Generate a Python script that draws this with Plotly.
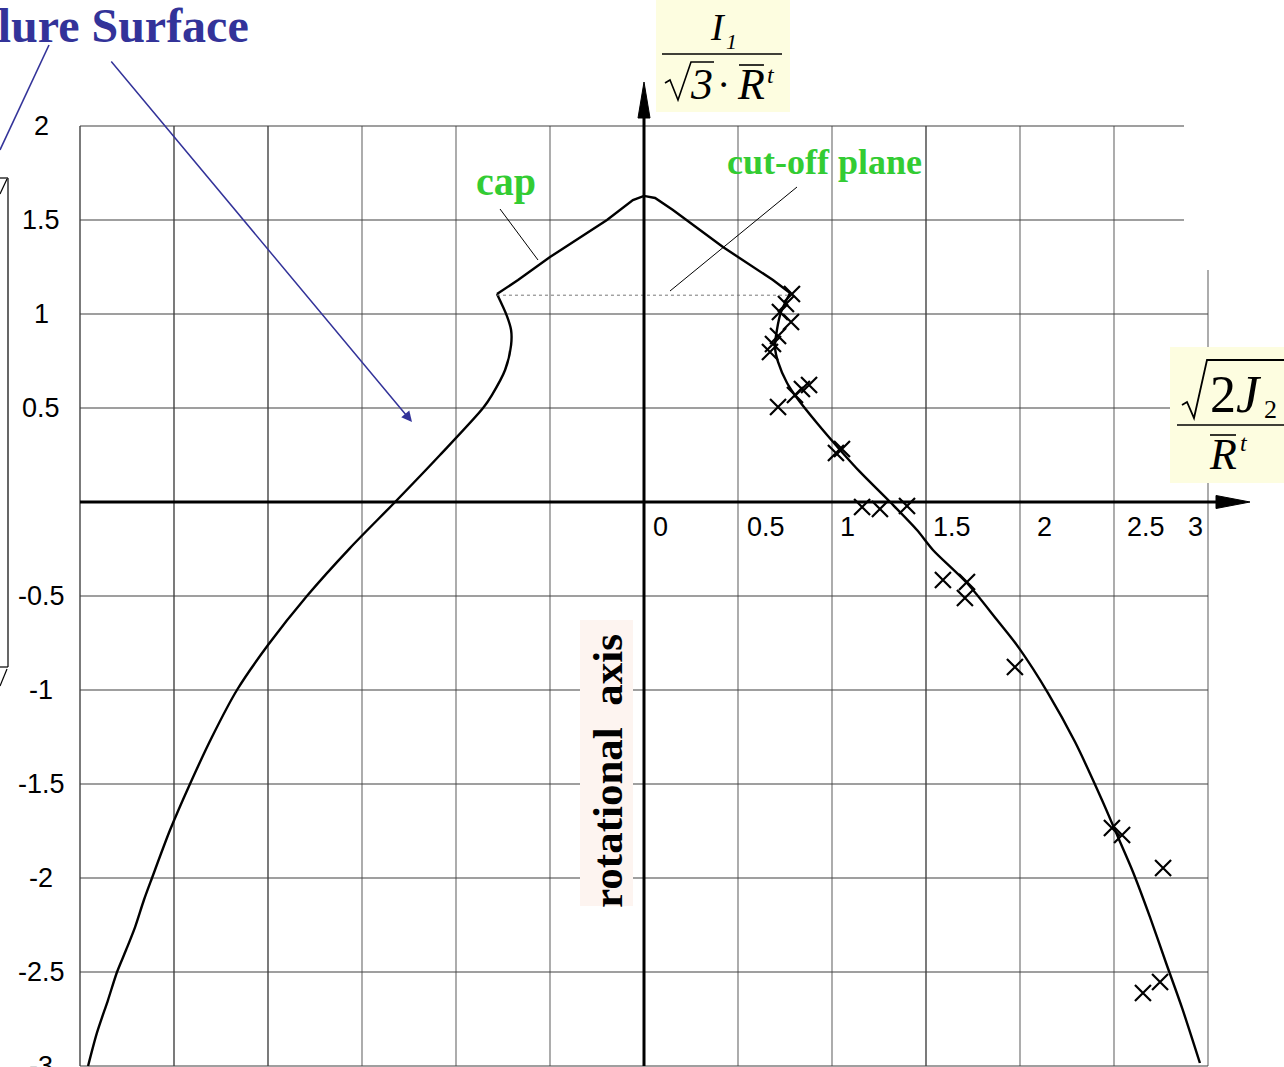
import plotly.graph_objects as go

# ---------------------------------------------------------------------------
# Meridian of the failure surface in normalized invariants
# (x = sqrt(2 J2) / R^t, y = I1 / (sqrt(3) R^t)).
# Compression side, from the bottom up to the left cap corner
LEFT_X = [-2.957, -2.910, -2.851, -2.803, -2.755, -2.707, -2.660, -2.617, -2.521,
          -2.415, -2.298, -2.165, -2.000, -1.793, -1.564, -1.324, -1.085, -0.856,
          -0.809, -0.739, -0.707, -0.707, -0.729, -0.782]
LEFT_Y = [-3.000, -2.824, -2.649, -2.500, -2.383, -2.261, -2.117, -2.000, -1.745,
          -1.500, -1.250, -1.000, -0.761, -0.500, -0.245, 0.000, 0.250, 0.500,
          0.569, 0.702, 0.835, 0.915, 0.989, 1.106]
# Cap, from the left corner over the apex to the right corner
CAP_X = [-0.782, -0.670, -0.500, -0.197, -0.059, 0.000, 0.059, 0.154, 0.420, 0.686, 0.777]
CAP_Y = [1.106, 1.181, 1.303, 1.500, 1.606, 1.628, 1.617, 1.553, 1.356, 1.181, 1.112]
# Tension side, from the right cap corner down to the bottom
RIGHT_X = [0.777, 0.729, 0.707, 0.697, 0.713, 0.761, 0.814, 0.920, 1.043, 1.149, 1.309,
           1.452, 1.537, 1.718, 1.878, 1.995, 2.149, 2.293, 2.436, 2.521, 2.601,
           2.691, 2.777, 2.862, 2.957]
RIGHT_Y = [1.112, 1.011, 0.915, 0.824, 0.745, 0.633, 0.553, 0.420, 0.277, 0.160, 0.000,
           -0.149, -0.255, -0.431, -0.628, -0.777, -1.016, -1.277, -1.585, -1.782,
           -1.968, -2.207, -2.452, -2.691, -2.984]

# Test data points
TEST_X = [0.787, 0.755, 0.723, 0.782, 0.713, 0.686, 0.670, 0.878, 0.840, 0.803,
          0.713, 1.053, 1.021, 1.160, 1.255, 1.399, 1.590, 1.718, 1.707, 1.973,
          2.489, 2.543, 2.761, 2.745, 2.654]
TEST_Y = [1.106, 1.053, 1.011, 0.957, 0.883, 0.840, 0.798, 0.622, 0.601, 0.569,
          0.505, 0.282, 0.261, -0.027, -0.037, -0.021, -0.415, -0.426, -0.511, -0.878,
          -1.734, -1.771, -1.947, -2.553, -2.612]

# Height of the cut-off plane under the cap
CUTOFF_Y = 1.1

# Grid and tick labels
GRID_X = [-3, -2.5, -2, -1.5, -1, -0.5, 0.5, 1, 1.5, 2, 2.5, 3]
GRID_Y = [2, 1.5, 1, 0.5, -0.5, -1, -1.5, -2, -2.5, -3]
X_TICKS = [0, 0.5, 1, 1.5, 2, 2.5, 3]
X_TICK_TEXT = ["0", "0.5", "1", "1.5", "2", "2.5", "3"]
Y_TICKS = [2, 1.5, 1, 0.5, -0.5, -1, -1.5, -2, -2.5, -3]
Y_TICK_TEXT = ["2", "1.5", "1", "0.5", "-0.5", "-1", "-1.5", "-2", "-2.5", "-3"]

# ---------------------------------------------------------------------------
# Page geometry: the axes fill the whole page; one unit is UNIT pixels and the
# origin sits at (OX, OY) pixels from the top-left corner.
W, H = 1284, 1067
OX, OY, UNIT = 644, 502, 188
X_MIN, X_MAX, Y_MIN, Y_MAX = -3, 3, -3, 2


def dx(px):
    return (px - OX) / UNIT


def dy(py):
    return (OY - py) / UNIT


SERIF = "Liberation Serif, Times New Roman, serif"
SANS = "Liberation Sans, Arial, sans-serif"
BLUE = "#333399"
GREEN = "#33cc33"
YELLOW = "#fdfde0"
PINK = "#fdf4f0"
CURVE_LINE = dict(color="black", width=2.4)

fig = go.Figure()

# failure surface meridian: smooth branches joined by the straight-sided cap
fig.add_trace(go.Scatter(x=LEFT_X, y=LEFT_Y, mode="lines", hoverinfo="skip",
                         line=dict(CURVE_LINE, shape="spline", smoothing=0.8)))
fig.add_trace(go.Scatter(x=CAP_X, y=CAP_Y, mode="lines", hoverinfo="skip",
                         line=CURVE_LINE))
fig.add_trace(go.Scatter(x=RIGHT_X, y=RIGHT_Y, mode="lines", hoverinfo="skip",
                         line=dict(CURVE_LINE, shape="spline", smoothing=0.8)))

# cut-off plane between the two cap corners
fig.add_trace(go.Scatter(x=[CAP_X[0], CAP_X[-1]], y=[CUTOFF_Y, CUTOFF_Y], mode="lines",
                         line=dict(color="#777777", width=1, dash="dot"), hoverinfo="skip"))

# test points
fig.add_trace(go.Scatter(x=TEST_X, y=TEST_Y, mode="markers",
                         marker=dict(symbol="x-thin", size=16, line=dict(color="black", width=2.2)),
                         hoverinfo="skip"))

shapes = []
# grid
for gx in GRID_X:
    top = Y_MAX if gx < 3 else dy(270)
    dark = gx in (-3, -2.5, -2, 1.5)
    shapes.append(dict(type="line", x0=gx, x1=gx, y0=Y_MIN, y1=top, layer="below",
                       line=dict(color="#333333" if dark else "#808080", width=1.3)))
for gy in GRID_Y:
    right = X_MAX if gy < 1.5 else dx(1184)
    shapes.append(dict(type="line", x0=X_MIN, x1=right, y0=gy, y1=gy, layer="below",
                       line=dict(color="#404040", width=1.1)))

# main axes with arrowheads
shapes.append(dict(type="line", x0=0, x1=0, y0=Y_MIN, y1=dy(112),
                   line=dict(color="black", width=3)))
shapes.append(dict(type="line", x0=X_MIN, x1=dx(1220), y0=0, y1=0,
                   line=dict(color="black", width=3)))
shapes.append(dict(type="path", fillcolor="black", line=dict(color="black", width=1),
                   path=f"M {dx(644)} {dy(82)} L {dx(638)} {dy(118)} L {dx(650)} {dy(118)} Z"))
shapes.append(dict(type="path", fillcolor="black", line=dict(color="black", width=1),
                   path=f"M {dx(1250)} {dy(502)} L {dx(1216)} {dy(495.5)} L {dx(1216)} {dy(508.5)} Z"))

# label boxes
shapes.append(dict(type="rect", x0=dx(656), x1=dx(790), y0=dy(112), y1=dy(-2),
                   fillcolor=YELLOW, line=dict(width=0)))
shapes.append(dict(type="rect", x0=dx(1170), x1=dx(1290), y0=dy(483), y1=dy(347),
                   fillcolor=YELLOW, line=dict(width=0)))
shapes.append(dict(type="rect", x0=dx(580), x1=dx(633), y0=dy(906), y1=dy(620),
                   fillcolor=PINK, line=dict(width=0)))

# vertical-axis formula: fraction bar, radical, overline
shapes.append(dict(type="line", x0=dx(662), x1=dx(782), y0=dy(54), y1=dy(54),
                   line=dict(color="black", width=1.5)))
shapes.append(dict(type="path", line=dict(color="black", width=1.6),
                   path=f"M {dx(665)} {dy(83)} L {dx(670)} {dy(80)} L {dx(678)} {dy(100)} "
                        f"L {dx(691)} {dy(62)} L {dx(714)} {dy(62)}"))
shapes.append(dict(type="line", x0=dx(739), x1=dx(764), y0=dy(65), y1=dy(65),
                   line=dict(color="black", width=1.6)))

# horizontal-axis formula: radical, fraction bar, overline
shapes.append(dict(type="path", line=dict(color="black", width=1.8),
                   path=f"M {dx(1182)} {dy(405)} L {dx(1187)} {dy(402)} L {dx(1194)} {dy(418)} "
                        f"L {dx(1207)} {dy(360)} L {dx(1284)} {dy(360)}"))
shapes.append(dict(type="line", x0=dx(1177), x1=dx(1284), y0=dy(425), y1=dy(425),
                   line=dict(color="black", width=1.6)))
shapes.append(dict(type="line", x0=dx(1210), x1=dx(1236), y0=dy(435), y1=dy(435),
                   line=dict(color="black", width=1.6)))

# leader lines for the green labels
shapes.append(dict(type="line", x0=dx(500), x1=dx(538), y0=dy(209), y1=dy(260),
                   line=dict(color="black", width=1)))
shapes.append(dict(type="line", x0=dx(797), x1=dx(670), y0=dy(187), y1=dy(291),
                   line=dict(color="black", width=1)))

# title pointer
shapes.append(dict(type="line", x0=dx(49), x1=dx(0), y0=dy(45), y1=dy(150),
                   line=dict(color=BLUE, width=1.6)))

# edge of the neighbouring 3D sketch
for seg in [((0, 178), (8, 178)), ((8, 178), (8, 667)), ((0, 194), (7, 179)),
            ((0, 667), (8, 667)), ((0, 686), (7, 669))]:
    (ax0, ay0), (ax1, ay1) = seg
    shapes.append(dict(type="line", x0=dx(ax0), x1=dx(ax1), y0=dy(ay0), y1=dy(ay1),
                       line=dict(color="black", width=1.2)))

annotations = []


def text(x, y, s, size, family=SERIF, color="black", xanchor="center", yanchor="middle",
         angle=0):
    annotations.append(dict(x=x, y=y, text=s, showarrow=False, xanchor=xanchor,
                            yanchor=yanchor, textangle=angle,
                            font=dict(family=family, size=size, color=color)))


# tick labels
X_LABEL_SHIFT = [7, 7, 6, 5, 15, 11, -22]
for v, s, sh in zip(X_TICKS, X_TICK_TEXT, X_LABEL_SHIFT):
    text(v + sh / UNIT, dy(527), s, 27, family=SANS, xanchor="left")
for v, s in zip(Y_TICKS, Y_TICK_TEXT):
    text(dx(41), v, s, 27, family=SANS)

# title and arrow to the surface
text(dx(251), dy(25), "<b>Failure Surface</b>", 48, color=BLUE, xanchor="right")
annotations.append(dict(x=dx(412), y=dy(422), ax=dx(110), ay=dy(60), axref="x", ayref="y",
                        xref="x", yref="y", text="", showarrow=True, arrowhead=2,
                        arrowsize=1.4, arrowwidth=1.5, arrowcolor=BLUE))

# green labels
text(dx(506), dy(181), "<b>cap</b>", 40, color=GREEN)
text(dx(824), dy(162), "<b>cut-off plane</b>", 36, color=GREEN)

# rotational axis label
text(dx(607), dy(771), "<b>rotational\u00a0\u00a0axis</b>", 43, angle=-90)

# vertical-axis formula: I1 / (sqrt(3) * R^t)
text(dx(718), dy(27), "<i>I</i>", 38)
text(dx(731), dy(41), "<i>1</i>", 22)
text(dx(701), dy(84), "<i>3</i>", 44)
text(dx(723), dy(84), "·", 40)
text(dx(751), dy(84), "<i>R</i>", 44)
text(dx(771), dy(75), "<i>t</i>", 24)

# horizontal-axis formula: sqrt(2 J2) / R^t
text(dx(1236), dy(394), "2<i>J</i>", 52)
text(dx(1270), dy(409), "2", 26)
text(dx(1223), dy(454), "<i>R</i>", 44)
text(dx(1244), dy(443), "<i>t</i>", 24)

fig.update_layout(
    width=W, height=H,
    margin=dict(l=0, r=0, t=0, b=0),
    paper_bgcolor="white", plot_bgcolor="white",
    showlegend=False,
    xaxis=dict(range=[dx(0), dx(W)], visible=False, fixedrange=True),
    yaxis=dict(range=[dy(H), dy(0)], visible=False, fixedrange=True),
    shapes=shapes,
    annotations=annotations,
)

fig.write_html("out.html", config={"displayModeBar": False})
